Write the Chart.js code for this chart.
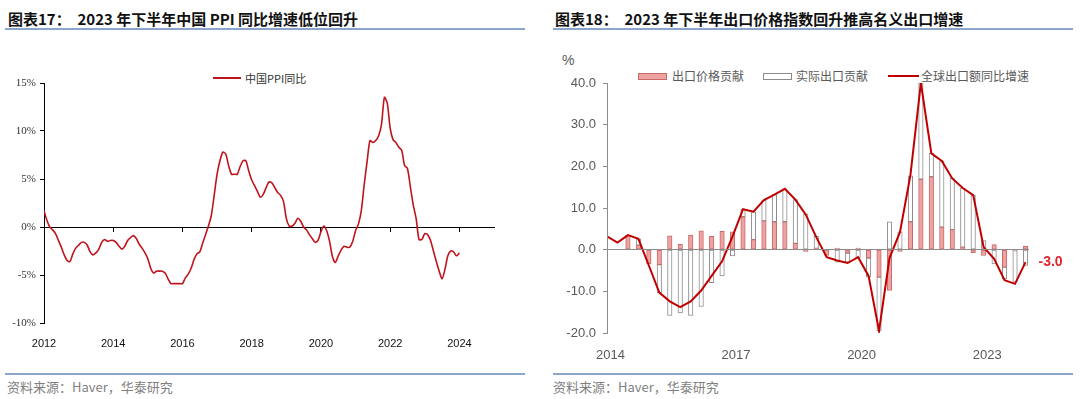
<!DOCTYPE html>
<html lang="zh-CN">
<head>
<meta charset="utf-8">
<title>PPI 与出口价格</title>
<script src="https://cdn.jsdelivr.net/npm/chart.js@4.4.1/dist/chart.umd.min.js"></script>
<style>
  html, body { margin: 0; padding: 0; background: #fff; }
  body { width: 1080px; height: 399px; position: relative; overflow: hidden;
         font-family: "Noto Sans CJK SC", "Liberation Sans", sans-serif; }
  .title { position: absolute; top: 8px; font-size: 15px; font-weight: bold; color: #111;
           white-space: pre; line-height: 22px; }
  .rule { position: absolute; height: 2px; background: #8aa6cb; }
  .source { position: absolute; top: 378px; font-size: 13px; color: #7f7f7f;
            white-space: pre; line-height: 18px; }
  .lg { position: absolute; font-size: 12px; color: #595959; line-height: 14px; white-space: nowrap; }
  .sw { position: absolute; box-sizing: border-box; }
  canvas { position: absolute; }
</style>
</head>
<body>

<div class="title" style="left:8px;">图表17：  2023 年下半年中国 PPI 同比增速低位回升</div>
<div class="rule" style="left:5px; width:520px; top:28px;"></div>
<div class="title" style="left:555px;">图表18：  2023 年下半年出口价格指数回升推高名义出口增速</div>
<div class="rule" style="left:553px; width:520px; top:28px;"></div>

<!-- left legend -->
<div class="sw" style="left:213px; top:77px; width:28px; height:2px; background:#c0141c;"></div>
<div class="lg" style="left:245px; top:71px; font-size:11px; color:#333;">中国PPI同比</div>

<!-- right legend -->
<div class="lg" style="left:562px; top:53px; font-family:'Liberation Sans'; font-size:14px;">%</div>
<div class="sw" style="left:638px; top:73px; width:29px; height:7px; background:#eea3a3; border:1px solid #c96a6a;"></div>
<div class="lg" style="left:672px; top:69px;">出口价格贡献</div>
<div class="sw" style="left:763px; top:73px; width:29px; height:7px; background:#fff; border:1px solid #8c8c8c;"></div>
<div class="lg" style="left:796px; top:69px;">实际出口贡献</div>
<div class="sw" style="left:888px; top:75px; width:31px; height:2px; background:#c00000;"></div>
<div class="lg" style="left:921px; top:69px;">全球出口额同比增速</div>

<canvas id="ppi" width="520" height="300" style="left:0; top:60px;"></canvas>
<canvas id="export" width="535" height="300" style="left:545px; top:60px;"></canvas>

<div class="rule" style="left:5px; width:520px; top:373px; height:1.5px;"></div>
<div class="source" style="left:7px;">资料来源：Haver，华泰研究</div>
<div class="rule" style="left:553px; width:520px; top:373px; height:1.5px;"></div>
<div class="source" style="left:553px;">资料来源：Haver，华泰研究</div>

<script>
// 图表17: China PPI yoy, monthly, first value = Dec 2011
const ppiStart = { year: 2011, month: 12 };
const ppiYoY = [
  1.7,
  0.7, 0.0, -0.3, -0.7, -1.4, -2.1, -2.9, -3.5, -3.6, -2.8, -2.2, -1.9,   // 2012
  -1.6, -1.6, -1.9, -2.6, -2.9, -2.7, -2.3, -1.6, -1.3, -1.5, -1.4, -1.4, // 2013
  -1.6, -2.0, -2.3, -2.0, -1.4, -1.1, -0.9, -1.2, -1.8, -2.2, -2.7, -3.3, // 2014
  -4.3, -4.8, -4.6, -4.6, -4.6, -4.8, -5.4, -5.9, -5.9, -5.9, -5.9, -5.9, // 2015
  -5.3, -4.9, -4.3, -3.4, -2.8, -2.6, -1.7, -0.8, 0.1, 1.2, 3.3, 5.5,     // 2016
  6.9, 7.8, 7.6, 6.4, 5.5, 5.5, 5.5, 6.3, 6.9, 6.9, 5.8, 4.9,             // 2017
  4.3, 3.7, 3.1, 3.4, 4.1, 4.7, 4.6, 4.1, 3.6, 3.3, 2.7, 0.9,             // 2018
  0.1, 0.1, 0.4, 0.9, 0.6, 0.0, -0.3, -0.8, -1.2, -1.6, -1.4, -0.5,       // 2019
  0.1, -0.4, -1.5, -3.1, -3.7, -3.0, -2.4, -2.0, -2.1, -2.1, -1.5, -0.4,  // 2020
  0.3, 1.7, 4.4, 6.8, 9.0, 8.8, 9.0, 9.5, 10.7, 13.5, 12.9, 10.3,         // 2021
  9.1, 8.8, 8.3, 8.0, 6.4, 6.1, 4.2, 2.3, 0.9, -1.3, -1.3, -0.7,          // 2022
  -0.8, -1.4, -2.5, -3.6, -4.6, -5.4, -4.4, -3.0, -2.5, -2.6, -3.0, -2.7  // 2023
];
const ppiYearTicks = [2012, 2014, 2016, 2018, 2020, 2022, 2024];

// 图表18: quarterly, global export yoy and its price / volume split
const quarters = [
  "2013Q4",
  "2014Q1", "2014Q2", "2014Q3", "2014Q4", "2015Q1", "2015Q2", "2015Q3", "2015Q4",
  "2016Q1", "2016Q2", "2016Q3", "2016Q4", "2017Q1", "2017Q2", "2017Q3", "2017Q4",
  "2018Q1", "2018Q2", "2018Q3", "2018Q4", "2019Q1", "2019Q2", "2019Q3", "2019Q4",
  "2020Q1", "2020Q2", "2020Q3", "2020Q4", "2021Q1", "2021Q2", "2021Q3", "2021Q4",
  "2022Q1", "2022Q2", "2022Q3", "2022Q4", "2023Q1", "2023Q2", "2023Q3", "2023Q4"
];
const globalExportYoY = [
  3.2, 1.7, 3.5, 2.6, -3.8, -10.3, -12.4, -13.8, -12.4, -9.8, -6.3, -2.8, 3.2,
  9.7, 9.1, 11.9, 13.2, 14.6, 12.0, 8.4, 3.0, -1.8, -2.6, -3.2, -1.8, -6.3,
  -19.5, -2.0, 4.2, 17.9, 40.0, 23.1, 21.3, 17.1, 14.8, 13.1, 0.6, -2.2, -7.3, -8.2, -3.0
];
const priceContrib = [
  null, null, 3.5, 1.1, -3.4, -3.6, 3.3, 1.3, 3.5, 4.5, 3.2, 4.4, 4.3,
  7.9, 2.4, 6.9, 6.7, 6.7, 1.5, -0.4, 0.3, -1.4, 0.4, -0.8, 0.4, -2.0,
  -6.6, -9.8, -0.4, 6.7, 16.9, 17.5, 5.4, 4.8, 0.6, -0.7, -1.4, 1.2, -4.2, -0.2, 0.8
];
const realContrib = [
  null, null, null, 1.5, null, -6.7, -15.8, -15.2, -15.8, -13.6, -7.9, -6.3, -1.5,
  1.8, 6.7, 5.0, 6.5, 7.9, 10.5, 8.6, 2.9, null, -3.0, -2.2, -2.0, -4.6,
  -12.9, 6.7, 4.3, 11.0, 23.1, 5.6, 15.9, 12.3, 14.2, 13.1, 2.2, -3.4, -2.8, -7.6, -3.8
];
const exportYearTicks = [2014, 2017, 2020, 2023];

// month i after start -> decimal year (end of month)
const ppiPoints = ppiYoY.map((v, i) => ({ x: ppiStart.year + (ppiStart.month + i) / 12, y: v }));

// "2016Q3" -> start of the quarter's last month
function quarterX(q) {
  const y = Number(q.slice(0, 4));
  const n = Number(q.slice(5));
  return y + (3 * n - 1) / 12;
}
const toPoints = (arr) => arr.map((v, i) => ({ x: quarterX(quarters[i]), y: v }));

const setTicks = (list) => (scale) => { scale.ticks = list.map(v => ({ value: v })); };

new Chart(document.getElementById("ppi"), {
  type: "line",
  data: {
    datasets: [{
      label: "中国PPI同比",
      data: ppiPoints,
      borderColor: "#c0141c",
      borderWidth: 1.6,
      pointRadius: 0,
      tension: 0.25,
      xAxisID: "x",
      yAxisID: "y",
    }],
  },
  options: {
    responsive: false,
    animation: false,
    layout: { padding: { top: 23, right: 26, left: 0, bottom: 0 } },
    plugins: { legend: { display: false }, tooltip: { enabled: false } },
    scales: {
      x: {
        type: "linear", position: "bottom", min: 2012, max: 2025,
        afterBuildTicks: setTicks(ppiYearTicks),
        afterFit: (s) => { s.height = 37; },
        grid: { display: false },
        border: { display: false },
        ticks: {
          autoSkip: false, maxRotation: 0, padding: 6, color: "#111",
          font: { family: "Liberation Sans", size: 11 },
          callback: (v) => String(v),
        },
      },
      x0: {
        type: "linear", position: { y: 0 }, min: 2012, max: 2025,
        afterBuildTicks: setTicks(ppiYearTicks),
        grid: { drawOnChartArea: false, drawTicks: true, tickLength: 4, tickColor: "#000" },
        border: { display: true, color: "#000", width: 1 },
        ticks: { display: false },
      },
      y: {
        min: -10, max: 15,
        ticks: {
          stepSize: 5, padding: 4, color: "#333",
          font: { family: "Liberation Serif", size: 11 },
          callback: (v) => v + "%",
        },
        afterFit: (s) => { s.width = 44; },
        grid: { drawOnChartArea: false, tickLength: 4, tickColor: "#000" },
        border: { color: "#000" },
      },
    },
  },
});

const lastValueLabel = {
  id: "lastValueLabel",
  afterDatasetsDraw(chart) {
    const meta = chart.getDatasetMeta(0);
    const pt = meta.data[meta.data.length - 1];
    const v = globalExportYoY[globalExportYoY.length - 1];
    const ctx = chart.ctx;
    ctx.save();
    ctx.font = "bold 14px 'Liberation Sans', Arial, sans-serif";
    ctx.fillStyle = "#e0262c";
    ctx.textAlign = "left";
    ctx.textBaseline = "middle";
    ctx.fillText(v.toFixed(1), pt.x + 13, pt.y);
    ctx.restore();
  },
};

new Chart(document.getElementById("export"), {
  type: "bar",
  data: {
    datasets: [
      {
        type: "line",
        label: "全球出口额同比增速",
        data: toPoints(globalExportYoY),
        borderColor: "#c00000",
        borderWidth: 2,
        pointRadius: 0,
        tension: 0,
        stack: "line",
        order: 0,
      },
      {
        label: "出口价格贡献",
        data: toPoints(priceContrib),
        backgroundColor: "#eea3a3",
        borderColor: "#c96a6a",
        borderWidth: 1,
        borderSkipped: false,
        barThickness: 4.5,
        stack: "bars",
        order: 1,
      },
      {
        label: "实际出口贡献",
        data: toPoints(realContrib),
        backgroundColor: "#ffffff",
        borderColor: "#8c8c8c",
        borderWidth: 1,
        borderSkipped: false,
        barThickness: 4.5,
        stack: "bars",
        order: 1,
      },
    ],
  },
  options: {
    responsive: false,
    animation: false,
    layout: { padding: { top: 23, right: 51, left: 0, bottom: 0 } },
    plugins: { legend: { display: false }, tooltip: { enabled: false } },
    scales: {
      x: {
        type: "linear", offset: false, min: quarterX(quarters[0]), max: 2024,
        afterBuildTicks: setTicks(exportYearTicks),
        afterFit: (s) => { s.height = 27; },
        grid: { display: false, offset: false },
        border: { display: false },
        ticks: {
          autoSkip: false, maxRotation: 0, padding: 7, color: "#595959",
          font: { family: "Liberation Sans", size: 13 },
          callback: (v) => String(v),
        },
      },
      y: {
        stacked: true,
        min: -20, max: 40,
        ticks: {
          stepSize: 10, padding: 7, color: "#595959",
          font: { family: "Liberation Sans", size: 13 },
          callback: (v) => v.toFixed(1),
        },
        afterFit: (s) => { s.width = 62; },
        grid: {
          z: 1,
          color: (c) => (c.tick && c.tick.value === 0 ? "#8c8c8c" : "rgba(0,0,0,0)"),
          tickColor: "#8c8c8c",
          tickLength: 4,
        },
        border: { z: 1, color: "#8c8c8c" },
      },
    },
  },
  plugins: [lastValueLabel],
});
</script>
</body>
</html>
